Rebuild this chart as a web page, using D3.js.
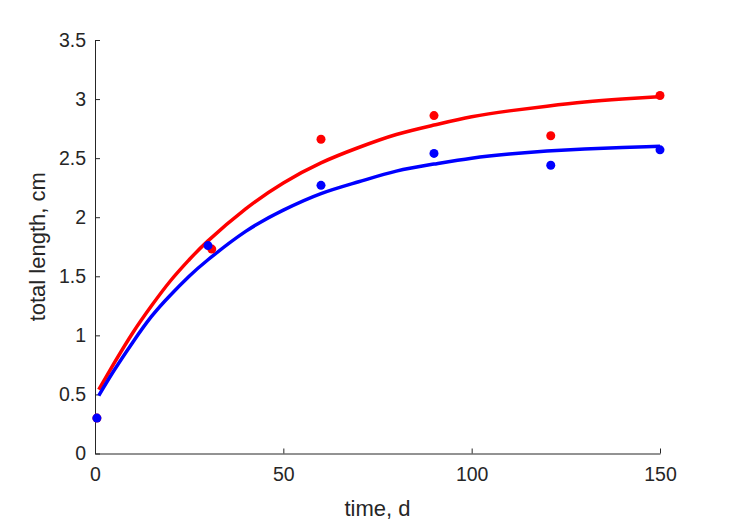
<!DOCTYPE html>
<html>
<head>
<meta charset="utf-8">
<script src="https://cdn.jsdelivr.net/npm/d3@7"></script>
<style>
  body { margin: 0; background: #fff; }
  text { font-family: "Liberation Sans", Arial, sans-serif; fill: #262626; }
</style>
</head>
<body>
<div id="chart"></div>
<script>
// measured points (time in days, length in cm)
const redDays = [0.5, 31, 60, 90, 121, 150];
const redLength = [0.30, 1.73, 2.66, 2.86, 2.69, 3.03];
const blueDays = [0.5, 30, 60, 90, 121, 150];
const blueLength = [0.30, 1.76, 2.27, 2.54, 2.44, 2.57];

// fitted curves
const fitDays = [1, 5, 10, 15, 20, 25, 30, 40, 50, 60, 70, 80, 90, 100, 110, 120, 130, 140, 150];
const redFit = [0.54, 0.76, 1.02, 1.25, 1.46, 1.64, 1.80, 2.07, 2.29, 2.46, 2.59, 2.70, 2.78, 2.85, 2.90, 2.94, 2.975, 3.00, 3.02];
const blueFit = [0.49, 0.70, 0.94, 1.16, 1.34, 1.50, 1.64, 1.88, 2.06, 2.20, 2.30, 2.39, 2.45, 2.50, 2.535, 2.56, 2.578, 2.59, 2.60];

const xTicks = [0, 50, 100, 150];
const yTicks = [0, 0.5, 1, 1.5, 2, 2.5, 3, 3.5];

const W = 729, H = 521;
const margin = { top: 40, right: 69, bottom: 67.5, left: 95 },
      width = W - margin.left - margin.right,
      height = H - margin.top - margin.bottom;

const svg = d3.select("#chart")
  .append("svg")
    .attr("width", W)
    .attr("height", H)
  .append("g")
    .attr("transform", `translate(${margin.left},${margin.top})`);

const x = d3.scaleLinear().domain([0, 150]).range([0, width]);
const y = d3.scaleLinear().domain([0, 3.5]).range([height, 0]);

// axes, ticks pointing inward like MATLAB
const xAxis = svg.append("g")
  .attr("transform", `translate(0,${height})`)
  .call(d3.axisBottom(x).tickValues(xTicks).tickSize(-5).tickSizeOuter(0).tickPadding(14).tickFormat(d3.format("")));

const yAxis = svg.append("g")
  .call(d3.axisLeft(y).tickValues(yTicks).tickSize(-5).tickSizeOuter(0).tickPadding(9).tickFormat(d3.format("")));

[xAxis, yAxis].forEach(a => {
  a.select(".domain").attr("stroke", "#262626").attr("stroke-width", 1);
  a.selectAll(".tick line").attr("stroke", "#262626");
  a.selectAll(".tick text")
    .attr("fill", "#262626")
    .style("font-family", "'Liberation Sans', Arial, sans-serif")
    .style("font-size", "19.5px");
});

// axis labels
svg.append("text")
  .attr("x", width / 2)
  .attr("y", height + 62)
  .attr("text-anchor", "middle")
  .style("font-size", "22px")
  .text("time, d");

svg.append("text")
  .attr("transform", `translate(-50,${height / 2}) rotate(-90)`)
  .attr("text-anchor", "middle")
  .style("font-size", "22px")
  .text("total length, cm");

// fitted curves
const line = d3.line()
  .x(d => x(d[0]))
  .y(d => y(d[1]))
  .curve(d3.curveNatural);

const series = [
  { color: "#ff0000", days: redDays, len: redLength, fit: redFit },
  { color: "#0000ff", days: blueDays, len: blueLength, fit: blueFit }
];

series.forEach(s => {
  svg.append("path")
    .datum(fitDays.map((t, i) => [t, s.fit[i]]))
    .attr("fill", "none")
    .attr("stroke", s.color)
    .attr("stroke-width", 3.5)
    .attr("d", line);
});

// data points
series.forEach(s => {
  svg.selectAll(null)
    .data(s.days.map((t, i) => [t, s.len[i]]))
    .enter()
    .append("circle")
      .attr("cx", d => x(d[0]))
      .attr("cy", d => y(d[1]))
      .attr("r", 4.5)
      .attr("fill", s.color);
});
</script>
</body>
</html>
